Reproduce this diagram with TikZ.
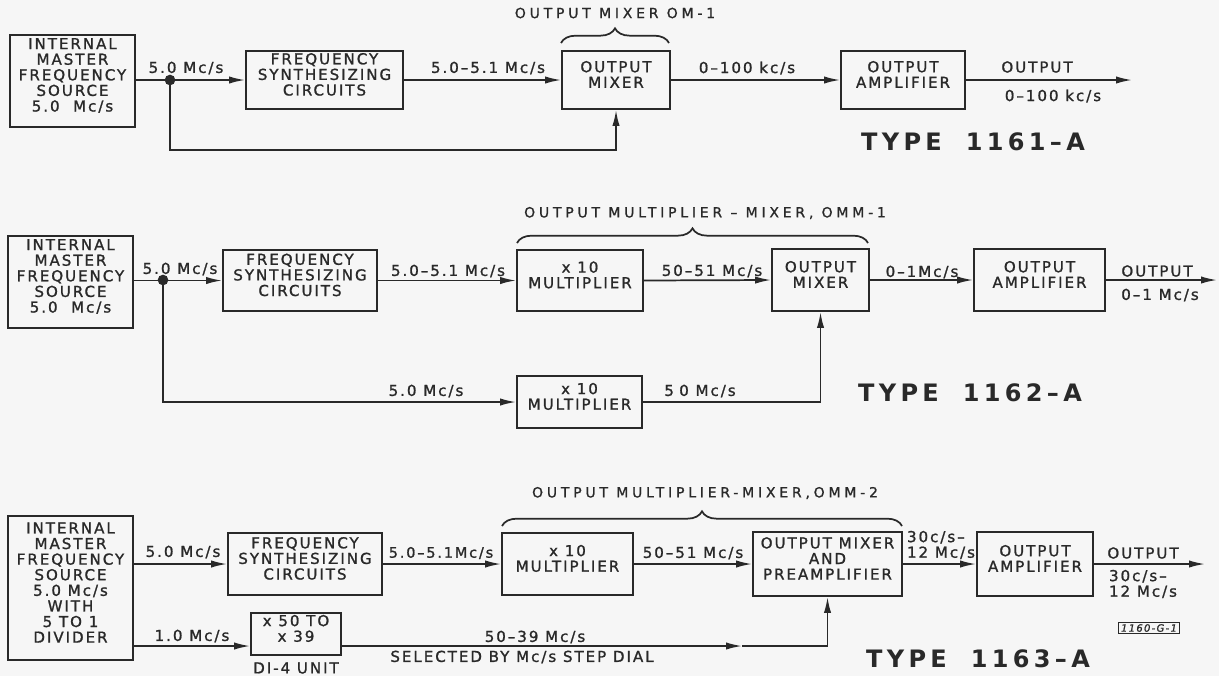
\documentclass[tikz,border=0pt]{standalone}
\usepackage{fontspec}
\setmainfont{DejaVu Sans}[LetterSpace=13, FakeBold=1.2]
\newfontfamily\widefont{DejaVu Sans}[LetterSpace=27, FakeBold=1]
\newfontfamily\typfont{DejaVu Sans}[LetterSpace=18]
\usetikzlibrary{arrows.meta,fit,decorations.pathreplacing,calc}
\definecolor{ink}{gray}{0.16}
\definecolor{paper}{gray}{0.965}
\newcommand\bxf{\fontsize{11.3}{11.7}\selectfont}
\newcommand\tyf{\typfont\bfseries\fontsize{18}{20}\selectfont}
\newcommand\hdf{\widefont\fontsize{10.5}{12}\selectfont}
\begin{document}
\begin{tikzpicture}[x=0.75pt,y=-0.75pt,
  box/.style={draw=ink, line width=1.4pt, inner sep=0pt, align=center, font=\bxf, text=ink},
  lbl/.style={inner sep=0pt, font=\bxf, text=ink, align=center},
  hdr/.style={inner sep=0pt, font=\hdf, text=ink},
  typ/.style={inner sep=0pt, font=\tyf, text=ink},
  ln/.style={draw=ink, line width=1.3pt},
  arr/.style={draw=ink, line width=1.3pt, -{Latex[length=12pt,width=5.5pt]}},
  brc/.style={draw=ink, line width=1.3pt, decorate, decoration={brace, amplitude=11pt}},
  jdot/.style={circle, fill=ink, inner sep=0pt, minimum size=8pt}]
\fill[paper] (0,0) rectangle (1219,676);
\useasboundingbox (0,0) rectangle (1219,676);

% ---------------- TYPE 1161-A ----------------
\node[box, fit={(10,35) (135,127)}] (src1) {INTERNAL\\MASTER\\FREQUENCY\\SOURCE\\5.0~~Mc/s};
\node[box, fit={(246,51) (403,109)}] (syn1) {FREQUENCY\\SYNTHESIZING\\CIRCUITS};
\node[box, fit={(562,51) (670,109)}] (mix1) {OUTPUT\\MIXER};
\node[box, fit={(841,51) (965,109)}] (amp1) {OUTPUT\\AMPLIFIER};
\coordinate (o1) at (1132,80);
\coordinate (f1) at (170,150);
\coordinate (b1a) at (561,43);
\coordinate (b1b) at (669,43);

\draw[arr] (src1.east |- syn1.west) -- (syn1.west);
\node[jdot] (dot1) at (170,80) {};
\draw[arr] (syn1.east) -- (mix1.west);
\draw[arr] (mix1.east) -- (amp1.west);
\draw[arr] (amp1.east) -- (o1);
\draw[arr] (dot1.center) -- (f1) -| (mix1.south);
\draw[brc] (b1a) -- (b1b);

\node[lbl] (l1a) at (186,68) {5.0 Mc/s};
\node[lbl] (l1b) at (488,68) {5.0–5.1 Mc/s};
\node[lbl] (l1c) at (747,68) {0–100 kc/s};
\node[lbl] (l1d) at (1037,67) {OUTPUT};
\node[lbl] (l1e) at (1053,96) {0–100 kc/s};
\node[hdr] (h1) at (615,13) {OUTPUT MIXER OM-1};
\node[typ] (t1) at (973,142) {TYPE\quad 1161–A};

% ---------------- TYPE 1162-A ----------------
\node[box, fit={(8,236) (133,328)}] (src2) {INTERNAL\\MASTER\\FREQUENCY\\SOURCE\\5.0~~Mc/s};
\node[box, fit={(223,250) (377,311)}] (syn2) {FREQUENCY\\SYNTHESIZING\\CIRCUITS};
\node[box, fit={(517,250) (643,311)}] (mul2a) {x 10\\MULTIPLIER};
\node[box, fit={(772,249) (869,311)}] (mix2) {OUTPUT\\MIXER};
\node[box, fit={(974,249) (1105,311)}] (amp2) {OUTPUT\\AMPLIFIER};
\node[box, fit={(517,376) (642,428)}] (mul2b) {x 10\\MULTIPLIER};
\coordinate (o2) at (1217,280);
\coordinate (b2a) at (517,243);
\coordinate (b2b) at (868,243);

\draw[arr] (src2.east |- syn2.west) -- (syn2.west);
\node[jdot] (dot2) at (163,280) {};
\draw[arr] (syn2.east) -- (mul2a.west);
\draw[arr] (mul2a.east) -- (mix2.west);
\draw[arr] (mix2.east) -- (amp2.west);
\draw[arr] (amp2.east) -- (o2);
\draw[arr] (dot2.center) |- (mul2b.west);
\draw[arr] (mul2b.east) -| (mix2.south);
\draw[brc] (b2a) -- (b2b);

\node[lbl] (l2a) at (180,269) {5.0 Mc/s};
\node[lbl] (l2b) at (448,271) {5.0–5.1 Mc/s};
\node[lbl] (l2c) at (712,271) {50–51 Mc/s};
\node[lbl] (l2d) at (922,272) {0–1Mc/s};
\node[lbl] (l2e) at (1157,271) {OUTPUT};
\node[lbl] (l2f) at (1160,295) {0–1 Mc/s};
\node[lbl] (l2g) at (426,391) {5.0 Mc/s};
\node[lbl] (l2h) at (700,391) {5\hspace{4pt}0 Mc/s};
\node[hdr] (h2) at (705,213) {OUTPUT MULTIPLIER – MIXER, OMM-1};
\node[typ] (t2) at (970,393) {TYPE\quad 1162–A};

% ---------------- TYPE 1163-A ----------------
\node[box, fit={(8,516) (133,660)}] (src3) {INTERNAL\\MASTER\\FREQUENCY\\SOURCE\\5.0 Mc/s\\WITH\\5 TO 1\\DIVIDER};
\node[box, fit={(228,533) (382,595)}] (syn3) {FREQUENCY\\SYNTHESIZING\\CIRCUITS};
\node[box, fit={(251,613) (341,655)}] (div3) {x 50 TO\\x 39};
\node[box, fit={(502,533) (633,595)}] (mul3) {x 10\\MULTIPLIER};
\node[box, fit={(753,532) (902,596)}] (mix3) {OUTPUT MIXER\\AND\\PREAMPLIFIER};
\node[box, fit={(977,532) (1093,596)}] (amp3) {OUTPUT\\AMPLIFIER};
\coordinate (r3) at (0,646);
\coordinate (m3) at (742,646);
\coordinate (o3) at (1205,564);
\coordinate (b3a) at (502,526);
\coordinate (b3b) at (902,526);

\draw[arr] (src3.east |- syn3.west) -- (syn3.west);
\draw[arr] (src3.east |- r3) -- (div3.west |- r3);
\draw[arr] (div3.east |- r3) -- (m3);
\draw[arr] (m3) -| (mix3.south);
\draw[arr] (syn3.east) -- (mul3.west);
\draw[arr] (mul3.east) -- (mix3.west);
\draw[arr] (mix3.east) -- (amp3.west);
\draw[arr] (amp3.east) -- (o3);
\draw[brc] (b3a) -- (b3b);

\node[lbl] (l3a) at (183,552) {5.0 Mc/s};
\node[lbl] (l3b) at (192,636) {1.0 Mc/s};
\node[lbl] (l3c) at (296,668) {DI-4 UNIT};
\node[lbl] (l3d) at (535,637) {50–39 Mc/s};
\node[lbl] (l3e) at (522,657) {SELECTED BY Mc/s STEP DIAL};
\node[lbl, font=\fontsize{10.8}{11.7}\selectfont] (l3f) at (441,553) {5.0–5.1Mc/s};
\node[lbl] (l3g) at (693,553) {50–51 Mc/s};
\node[lbl, align=left] (l3h) at (941,545) {30c/s–\\12 Mc/s};
\node[lbl] (l3i) at (1143,553) {OUTPUT};
\node[lbl, align=left] (l3j) at (1143,584) {30c/s–\\12 Mc/s};
\node[draw=ink, line width=0.8pt, inner xsep=2pt, inner ysep=1.5pt, text=ink, font=\itshape\fontsize{7.5}{8}\selectfont] (tag) at (1149,628) {1160-G-1};
\node[hdr] (h3) at (705,493) {OUTPUT MULTIPLIER-MIXER,OMM-2};
\node[typ] (t3) at (978,659) {TYPE\quad 1163–A};
\end{tikzpicture}
\end{document}
